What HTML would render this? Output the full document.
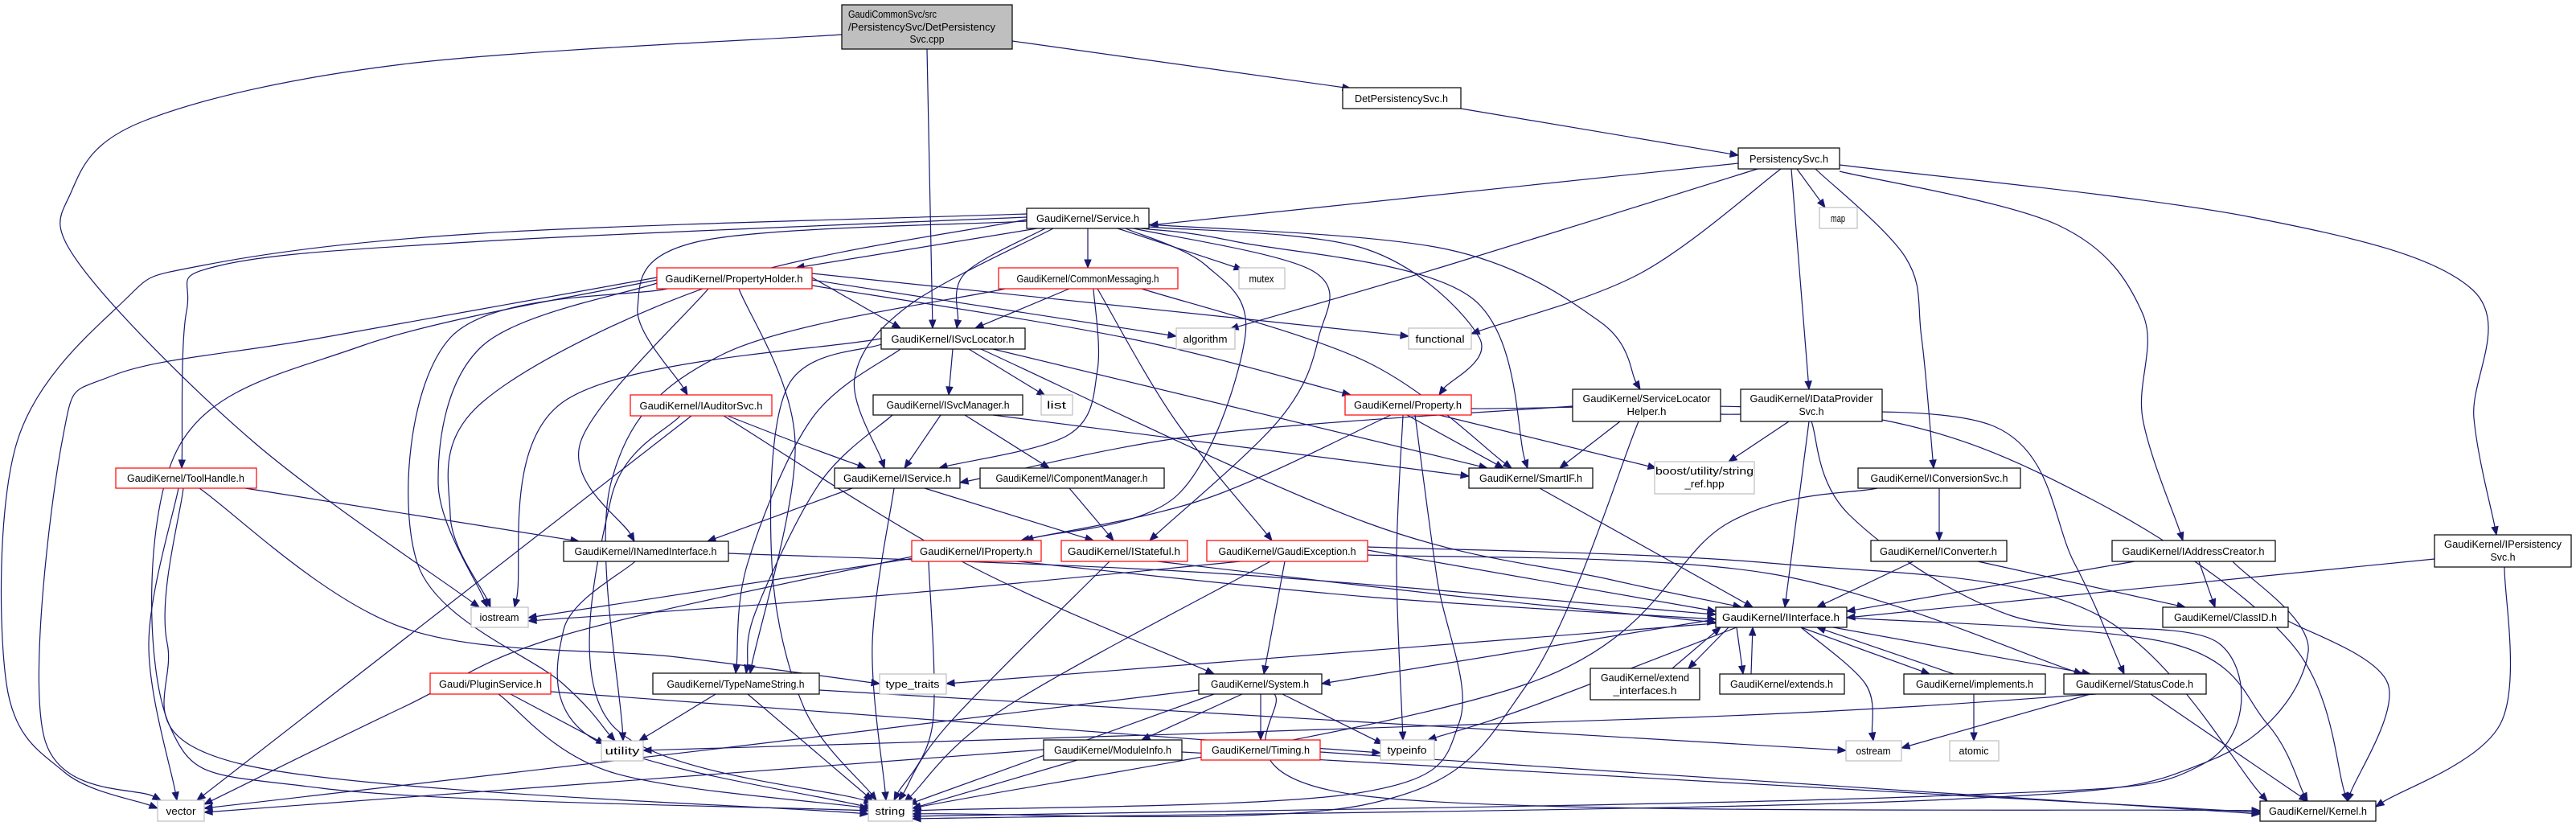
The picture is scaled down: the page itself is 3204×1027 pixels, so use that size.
<!DOCTYPE html>
<html><head><meta charset="utf-8"><style>
html,body{margin:0;padding:0;background:#fff;}
svg{display:block;}
text{font-family:"Liberation Sans",sans-serif;font-size:12.5px;fill:#000;}
</style></head><body>
<svg id="g" width="3204" height="1027" viewBox="0 0 3204 1027" xmlns="http://www.w3.org/2000/svg">
<g id="edges" fill="none" stroke="#191970" stroke-width="1.2"></g>
<g id="arrows" fill="#191970" stroke="#191970" stroke-width="1"></g>
<g id="nodes">
<rect x="1047" y="6" width="212" height="55" fill="#bfbfbf" stroke="#000" stroke-width="1.2"/>
<text x="1055" y="22">GaudiCommonSvc/src</text>
<text x="1055" y="38">/PersistencySvc/DetPersistency</text>
<text x="1153" y="53" text-anchor="middle">Svc.cpp</text>

<rect x="1670" y="109" width="147" height="26" fill="#fff" stroke="#000" stroke-width="1.2"/><text x="1743" y="127" text-anchor="middle">DetPersistencySvc.h</text>
<rect x="2162" y="184" width="126" height="26" fill="#fff" stroke="#000" stroke-width="1.2"/><text x="2225" y="202" text-anchor="middle">PersistencySvc.h</text>
<rect x="1277" y="259" width="152" height="25" fill="#fff" stroke="#000" stroke-width="1.2"/><text x="1353" y="276" text-anchor="middle">GaudiKernel/Service.h</text>
<rect x="817" y="333" width="193" height="26" fill="#fff" stroke="#ff0000" stroke-width="1.2"/><text x="913" y="351" text-anchor="middle">GaudiKernel/PropertyHolder.h</text>
<rect x="1242" y="333" width="223" height="26" fill="#fff" stroke="#ff0000" stroke-width="1.2"/><text x="1353" y="351" text-anchor="middle">GaudiKernel/CommonMessaging.h</text>
<rect x="1541" y="333" width="57" height="26" fill="#fff" stroke="#bfbfbf" stroke-width="1.2"/><text x="1569" y="351" text-anchor="middle">mutex</text>
<rect x="1096" y="408" width="179" height="26" fill="#fff" stroke="#000" stroke-width="1.2"/><text x="1185" y="426" text-anchor="middle">GaudiKernel/ISvcLocator.h</text>
<rect x="1463" y="408" width="73" height="26" fill="#fff" stroke="#bfbfbf" stroke-width="1.2"/><text x="1499" y="426" text-anchor="middle">algorithm</text>
<rect x="1752" y="408" width="78" height="26" fill="#fff" stroke="#bfbfbf" stroke-width="1.2"/><text x="1791" y="426" text-anchor="middle">functional</text>
<rect x="2263" y="258" width="47" height="26" fill="#fff" stroke="#bfbfbf" stroke-width="1.2"/><text x="2286" y="276" text-anchor="middle">map</text>
<rect x="784" y="491" width="176" height="26" fill="#fff" stroke="#ff0000" stroke-width="1.2"/><text x="872" y="509" text-anchor="middle">GaudiKernel/IAuditorSvc.h</text>
<rect x="1086" y="491" width="186" height="25" fill="#fff" stroke="#000" stroke-width="1.2"/><text x="1179" y="508" text-anchor="middle">GaudiKernel/ISvcManager.h</text>
<rect x="1295" y="491" width="39" height="25" fill="#fff" stroke="#bfbfbf" stroke-width="1.2"/><text x="1314" y="508" text-anchor="middle">list</text>
<rect x="1673" y="491" width="157" height="25" fill="#fff" stroke="#ff0000" stroke-width="1.2"/><text x="1751" y="508" text-anchor="middle">GaudiKernel/Property.h</text>
<rect x="1956" y="484" width="184" height="40" fill="#fff" stroke="#000" stroke-width="1.2"/><text x="2048" y="500" text-anchor="middle">GaudiKernel/ServiceLocator</text><text x="2048" y="516" text-anchor="middle">Helper.h</text>
<rect x="2165" y="484" width="176" height="40" fill="#fff" stroke="#000" stroke-width="1.2"/><text x="2253" y="500" text-anchor="middle">GaudiKernel/IDataProvider</text><text x="2253" y="516" text-anchor="middle">Svc.h</text>
<rect x="144" y="582" width="175" height="25" fill="#fff" stroke="#ff0000" stroke-width="1.2"/><text x="231" y="599" text-anchor="middle">GaudiKernel/ToolHandle.h</text>
<rect x="1038" y="582" width="156" height="25" fill="#fff" stroke="#000" stroke-width="1.2"/><text x="1116" y="599" text-anchor="middle">GaudiKernel/IService.h</text>
<rect x="1219" y="582" width="229" height="25" fill="#fff" stroke="#000" stroke-width="1.2"/><text x="1333" y="599" text-anchor="middle">GaudiKernel/IComponentManager.h</text>
<rect x="1827" y="582" width="154" height="25" fill="#fff" stroke="#000" stroke-width="1.2"/><text x="1904" y="599" text-anchor="middle">GaudiKernel/SmartIF.h</text>
<rect x="2058" y="574" width="124" height="40" fill="#fff" stroke="#bfbfbf" stroke-width="1.2"/><text x="2120" y="590" text-anchor="middle">boost/utility/string</text><text x="2120" y="606" text-anchor="middle">_ref.hpp</text>
<rect x="2311" y="582" width="202" height="25" fill="#fff" stroke="#000" stroke-width="1.2"/><text x="2412" y="599" text-anchor="middle">GaudiKernel/IConversionSvc.h</text>
<rect x="701" y="673" width="205" height="25" fill="#fff" stroke="#000" stroke-width="1.2"/><text x="803" y="690" text-anchor="middle">GaudiKernel/INamedInterface.h</text>
<rect x="1134" y="672" width="161" height="26" fill="#fff" stroke="#ff0000" stroke-width="1.2"/><text x="1214" y="690" text-anchor="middle">GaudiKernel/IProperty.h</text>
<rect x="1320" y="672" width="157" height="26" fill="#fff" stroke="#ff0000" stroke-width="1.2"/><text x="1398" y="690" text-anchor="middle">GaudiKernel/IStateful.h</text>
<rect x="1501" y="672" width="200" height="26" fill="#fff" stroke="#ff0000" stroke-width="1.2"/><text x="1601" y="690" text-anchor="middle">GaudiKernel/GaudiException.h</text>
<rect x="2327" y="672" width="169" height="26" fill="#fff" stroke="#000" stroke-width="1.2"/><text x="2411" y="690" text-anchor="middle">GaudiKernel/IConverter.h</text>
<rect x="2627" y="672" width="203" height="26" fill="#fff" stroke="#000" stroke-width="1.2"/><text x="2728" y="690" text-anchor="middle">GaudiKernel/IAddressCreator.h</text>
<rect x="3028" y="665" width="170" height="40" fill="#fff" stroke="#000" stroke-width="1.2"/><text x="3113" y="681" text-anchor="middle">GaudiKernel/IPersistency</text><text x="3113" y="697" text-anchor="middle">Svc.h</text>
<rect x="586" y="755" width="71" height="25" fill="#fff" stroke="#bfbfbf" stroke-width="1.2"/><text x="621" y="772" text-anchor="middle">iostream</text>
<rect x="2134" y="755" width="163" height="25" fill="#fff" stroke="#000" stroke-width="1.2"/><text x="2215" y="772" text-anchor="middle">GaudiKernel/IInterface.h</text>
<rect x="2690" y="755" width="156" height="25" fill="#fff" stroke="#000" stroke-width="1.2"/><text x="2768" y="772" text-anchor="middle">GaudiKernel/ClassID.h</text>
<rect x="535" y="837" width="150" height="26" fill="#fff" stroke="#ff0000" stroke-width="1.2"/><text x="610" y="855" text-anchor="middle">Gaudi/PluginService.h</text>
<rect x="812" y="837" width="207" height="26" fill="#fff" stroke="#000" stroke-width="1.2"/><text x="915" y="855" text-anchor="middle">GaudiKernel/TypeNameString.h</text>
<rect x="1094" y="838" width="83" height="25" fill="#fff" stroke="#bfbfbf" stroke-width="1.2"/><text x="1135" y="855" text-anchor="middle">type_traits</text>
<rect x="1491" y="838" width="153" height="25" fill="#fff" stroke="#000" stroke-width="1.2"/><text x="1567" y="855" text-anchor="middle">GaudiKernel/System.h</text>
<rect x="1978" y="831" width="136" height="39" fill="#fff" stroke="#000" stroke-width="1.2"/><text x="2046" y="847" text-anchor="middle">GaudiKernel/extend</text><text x="2046" y="863" text-anchor="middle">_interfaces.h</text>
<rect x="2139" y="838" width="155" height="25" fill="#fff" stroke="#000" stroke-width="1.2"/><text x="2216" y="855" text-anchor="middle">GaudiKernel/extends.h</text>
<rect x="2368" y="838" width="176" height="25" fill="#fff" stroke="#000" stroke-width="1.2"/><text x="2456" y="855" text-anchor="middle">GaudiKernel/implements.h</text>
<rect x="2567" y="838" width="177" height="25" fill="#fff" stroke="#000" stroke-width="1.2"/><text x="2655" y="855" text-anchor="middle">GaudiKernel/StatusCode.h</text>
<rect x="748" y="921" width="52" height="25" fill="#fff" stroke="#bfbfbf" stroke-width="1.2"/><text x="774" y="938" text-anchor="middle">utility</text>
<rect x="1298" y="920" width="172" height="25" fill="#fff" stroke="#000" stroke-width="1.2"/><text x="1384" y="937" text-anchor="middle">GaudiKernel/ModuleInfo.h</text>
<rect x="1494" y="920" width="148" height="25" fill="#fff" stroke="#ff0000" stroke-width="1.2"/><text x="1568" y="937" text-anchor="middle">GaudiKernel/Timing.h</text>
<rect x="1717" y="920" width="67" height="25" fill="#fff" stroke="#bfbfbf" stroke-width="1.2"/><text x="1750" y="937" text-anchor="middle">typeinfo</text>
<rect x="2296" y="921" width="69" height="25" fill="#fff" stroke="#bfbfbf" stroke-width="1.2"/><text x="2330" y="938" text-anchor="middle">ostream</text>
<rect x="2425" y="921" width="61" height="25" fill="#fff" stroke="#bfbfbf" stroke-width="1.2"/><text x="2455" y="938" text-anchor="middle">atomic</text>
<rect x="196" y="995" width="58" height="26" fill="#fff" stroke="#bfbfbf" stroke-width="1.2"/><text x="225" y="1013" text-anchor="middle">vector</text>
<rect x="1080" y="995" width="55" height="26" fill="#fff" stroke="#bfbfbf" stroke-width="1.2"/><text x="1107" y="1013" text-anchor="middle">string</text>
<rect x="2811" y="996" width="144" height="25" fill="#fff" stroke="#000" stroke-width="1.2"/><text x="2883" y="1013" text-anchor="middle">GaudiKernel/Kernel.h</text>
</g>
</svg>
<script>
(function(){
var E=[
[[1259,51],[1680,110]],
[[1153,61],[1160,408]],
[[1047,43],[596,755],[[500,80],[180,150],[88,240],[100,330],[316,550]]],
[[1817,135],[2162,193]],
[[2162,203],[1430,280]],
[[2235,210],[2270,258]],
[[2186,210],[1530,409],[[1800,330]]],
[[2215,210],[1830,415],[[2040,340]]],
[[2228,210],[2250,484]],
[[2258,210],[2405,582],[[2370,320],[2390,420]]],
[[2288,213],[2715,672],[[2560,280],[2665,390],[2665,520]]],
[[2288,205],[3105,665],[[2800,270],[3075,360],[3077,520]]],
[[1290,284],[990,333]],
[[1353,284],[1353,333]],
[[1390,284],[1545,335]],
[[1300,284],[1190,408],[[1200,340]]],
[[1310,284],[1100,582],[[1130,380],[1063,470]]],
[[1277,275],[855,491],[[870,300],[793,383]]],
[[1277,270],[226,582],[[600,300],[274,330],[232,387]]],
[[1277,266],[196,1005],[[600,290],[252,330],[151,377],[21,550],[8,850],[80,960]]],
[[1420,284],[1900,582],[[1535,300],[1830,370]]],
[[1429,282],[1790,491],[[1700,310],[1840,420]]],
[[1429,279],[2040,484],[[1800,310],[1990,400]]],
[[1410,284],[1430,672],[[1633,337],[1640,420],[1591,522]]],
[[1400,284],[1275,672],[[1500,330],[1549,416],[1465,615]]],
[[1277,273],[610,755],[[900,350],[600,500],[560,640]]],
[[1010,345],[1120,408]],
[[1010,355],[1680,491],[[1400,420]]],
[[919,359],[933,837],[[989,550]]],
[[881,359],[789,673],[[722,550]]],
[[1010,340],[1752,418]],
[[1010,348],[1463,418]],
[[817,352],[606,755],[[600,430],[545,600]]],
[[817,345],[200,995],[[400,420],[140,467],[77,550],[55,917]]],
[[817,348],[1080,1008],[[450,430],[220,560],[210,900],[400,980]]],
[[830,359],[765,921],[[560,420],[519,700],[700,850]]],
[[1330,359],[1213,408]],
[[1360,359],[1168,582],[[1365,460],[1330,540]]],
[[1420,359],[1880,582],[[1700,450]]],
[[1365,359],[1582,672],[[1460,520]]],
[[1250,359],[775,921],[[900,440],[760,600]]],
[[1185,434],[1180,491]],
[[1205,434],[1300,492]],
[[1220,434],[2166,755],[[1700,650],[2000,720]]],
[[1235,434],[1850,582]],
[[1096,421],[640,755],[[700,500]]],
[[1120,434],[915,837],[[1010,520],[930,700]]],
[[1096,428],[1090,995],[[980,480],[960,700],[1000,880]]],
[[1170,516],[1125,582]],
[[1200,516],[1305,582]],
[[1235,516],[1827,592]],
[[1110,516],[928,837],[[1020,600],[940,760]]],
[[905,517],[1077,582],[[990,550]]],
[[900,517],[1510,838],[[1200,700]]],
[[846,517],[1085,998],[[760,620],[760,900]]],
[[860,517],[245,995]],
[[305,607],[720,673]],
[[222,607],[220,995],[[185,800]]],
[[228,607],[1080,1012],[[208,800],[300,950]]],
[[248,607],[1094,850],[[500,780],[842,817]]],
[[1060,607],[880,673]],
[[1150,607],[1360,672]],
[[1112,607],[1102,995],[[1085,800]]],
[[1330,607],[1385,672]],
[[906,688],[2134,764],[[1500,712]]],
[[790,698],[1085,1005],[[701,783],[740,920]]],
[[1265,698],[2134,770],[[1700,742]]],
[[1150,692],[657,768]],
[[1155,698],[1112,995],[[1160,900]]],
[[1134,692],[254,1000],[[700,790],[500,880]]],
[[1440,698],[2134,774],[[1800,740]]],
[[1380,698],[1118,995],[[1180,900]]],
[[1701,684],[2134,760]],
[[1701,690],[2590,838],[[2200,713]]],
[[1701,680],[2820,996],[[2200,700],[2600,760]]],
[[1598,698],[1572,838]],
[[1580,698],[1125,997],[[1250,880]]],
[[1543,698],[657,772],[[1100,740]]],
[[1730,516],[1270,672],[[1500,620]]],
[[1750,516],[1870,582]],
[[1760,516],[1135,1008],[[1787,717],[1815,898],[1689,986]]],
[[1745,516],[1745,920],[[1737,700]]],
[[1790,516],[2060,582]],
[[1830,508],[2920,996],[[2300,515],[2600,620],[2850,800]]],
[[1956,505],[1194,600],[[1500,540]]],
[[2015,524],[1940,582]],
[[2038,524],[1135,1012],[[1900,850],[1700,1000]]],
[[2140,515],[2642,838],[[2480,530],[2580,700]]],
[[2225,524],[2150,574]],
[[2250,524],[2220,755]],
[[2253,524],[1135,1015],[[2300,640],[2500,765],[2760,800],[2740,950],[2400,990]]],
[[1915,607],[2180,755]],
[[2412,607],[2412,672]],
[[2335,607],[1135,1005],[[2150,650],[1900,850]]],
[[2380,698],[2260,755]],
[[2460,698],[2718,755]],
[[2655,698],[2297,760]],
[[2735,698],[2755,755]],
[[2777,698],[1135,1018],[[2871,810],[2748,946],[2400,995]]],
[[3028,695],[2297,768]],
[[3115,705],[2955,1003],[[3110,900]]],
[[2846,772],[2920,996],[[2970,850]]],
[[2134,770],[1644,850]],
[[2134,775],[1177,850]],
[[2150,780],[2100,831]],
[[2080,831],[2140,780]],
[[2160,780],[2168,838]],
[[2178,838],[2180,780]],
[[2240,780],[2400,838]],
[[2430,838],[2260,780]],
[[2280,780],[2600,838]],
[[2240,780],[2330,921],[[2320,850]]],
[[2160,780],[1776,920],[[1900,880]]],
[[2297,768],[2870,996],[[2700,800],[2820,900]]],
[[2455,863],[2455,921]],
[[2607,863],[800,933],[[2100,892]]],
[[2600,863],[2365,930]],
[[2675,863],[2870,996]],
[[1545,863],[1420,920]],
[[1568,863],[1568,920]],
[[1595,863],[1720,925]],
[[1510,863],[1130,1000]],
[[1491,858],[254,1005],[[900,930]]],
[[1585,863],[2811,1008],[[1700,990]]],
[[1340,945],[1135,1005]],
[[1298,932],[254,1010]],
[[1470,935],[2811,1010]],
[[1642,935],[2811,1012]],
[[890,863],[795,921]],
[[930,863],[1085,995]],
[[1019,858],[2296,933]],
[[635,863],[752,925]],
[[620,863],[1080,1005],[[760,960]]],
[[685,860],[1717,936]]
];
var ns="http://www.w3.org/2000/svg";
var ge=document.getElementById("edges"),ga=document.getElementById("arrows");
E.forEach(function(e){
 var p=[e[0]].concat(e[2]||[]).concat([e[1]]);
 var n=p.length,t=p[n-1],q=p[n-2];
 var dx=t[0]-q[0],dy=t[1]-q[1],L=Math.sqrt(dx*dx+dy*dy)||1;dx/=L;dy/=L;
 var al=10,aw=4;
 var b=[t[0]-dx*al,t[1]-dy*al];
 p[n-1]=b;
 var d="M"+p[0][0]+","+p[0][1];
 if(n==2){d+=" L"+b[0]+","+b[1];}
 else{
  for(var i=0;i<n-1;i++){
   var p0=p[i>0?i-1:0],p1=p[i],p2=p[i+1],p3=p[i+2<n?i+2:n-1];
   var c1=[p1[0]+(p2[0]-p0[0])/6,p1[1]+(p2[1]-p0[1])/6];
   var c2=[p2[0]-(p3[0]-p1[0])/6,p2[1]-(p3[1]-p1[1])/6];
   d+=" C"+c1[0].toFixed(1)+","+c1[1].toFixed(1)+" "+c2[0].toFixed(1)+","+c2[1].toFixed(1)+" "+p2[0].toFixed(1)+","+p2[1].toFixed(1);
  }
 }
 var pa=document.createElementNS(ns,"path");pa.setAttribute("d",d);ge.appendChild(pa);
 var pg=document.createElementNS(ns,"polygon");
 pg.setAttribute("points",t[0]+","+t[1]+" "+(b[0]-dy*aw).toFixed(1)+","+(b[1]+dx*aw).toFixed(1)+" "+(b[0]+dy*aw).toFixed(1)+","+(b[1]-dx*aw).toFixed(1));
 ga.appendChild(pg);
});
document.querySelectorAll("#nodes text").forEach(function(t){
 var s=t.textContent.length*6.1;t.setAttribute("textLength",s.toFixed(0));t.setAttribute("lengthAdjust","spacingAndGlyphs");
});
})();
</script>
</body></html>
